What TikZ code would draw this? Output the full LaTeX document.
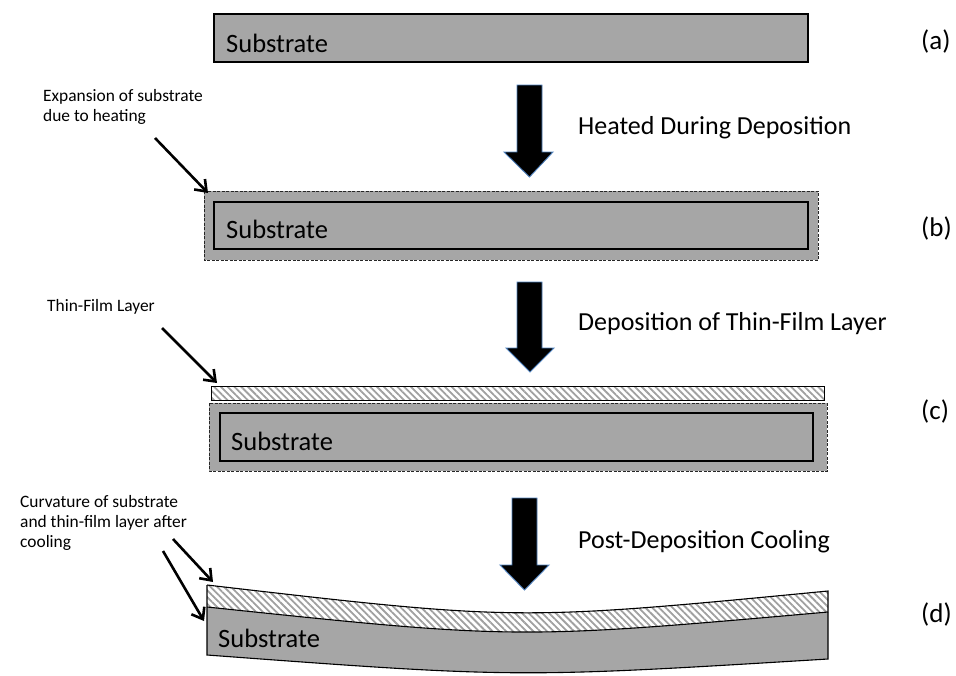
\documentclass[tikz,border=0pt]{standalone}
\usepackage{fontspec}
\setmainfont{Carlito}
\usetikzlibrary{arrows.meta,patterns.meta}
\definecolor{subgray}{HTML}{A6A6A6}
\definecolor{hatchgray}{HTML}{A0A0A0}
\definecolor{arrowedge}{HTML}{4F81BD}
\tikzset{
  subbox/.style={draw=black, line width=1.1pt},
  dashbox/.style={draw=black!85, line width=0.9pt, dash pattern=on 3pt off 1.5pt},
  hatchfill/.style={pattern={Lines[angle=-45,distance=4.8pt,line width=1.8pt]}, pattern color=hatchgray},
  bigarrow/.style={fill=black, draw=arrowedge, line width=0.9pt},
  callout/.style={draw=black, line width=2.6pt, -{Straight Barb[length=10pt,width=15pt,line width=2.6pt]}},
  bigtext/.style={anchor=base west, font=\fontsize{26}{30}\selectfont, inner sep=0pt},
  subtext/.style={anchor=base west, font=\fontsize{26.5}{30}\selectfont, inner sep=0pt},
  labtext/.style={anchor=base west, font=\fontsize{27}{30}\selectfont, inner sep=0pt},
  notetext/.style={anchor=base west, font=\fontsize{17.4}{20}\selectfont, inner sep=0pt, align=left},
}
\begin{document}
\begin{tikzpicture}[x=1pt,y=-1pt]
\useasboundingbox (0,0) rectangle (956,675);

% (a)
\fill[subgray] (214,14) rectangle (808,62);
\draw[subbox] (214,14) rectangle (808,62);
\node[subtext] (subA) at (226,52) {Substrate};
\node[labtext] (labA) at (921,49) {(a)};

% arrow 1
\draw[bigarrow] (517,85) -- (542,85) -- (542,152) -- (553,152) -- (529.5,177) -- (504,152) -- (517,152) -- cycle;
\node[bigtext] (stepA) at (578,134) {Heated During Deposition};

% (b)
\fill[subgray] (204,191) rectangle (818,260);
\draw[dashbox] (204,191) rectangle (818,260);
\draw[subbox] (214,202) rectangle (808,249);
\node[subtext] (subB) at (226,238) {Substrate};
\node[labtext] (labB) at (921,236) {(b)};
\node[notetext] (noteB) at (43,121) {Expansion of substrate\\due to heating};
\coordinate (noteBs) at (155,138);
\coordinate (noteBe) at (208,193);
\draw[callout] (noteBs) -- (noteBe);

% arrow 2
\draw[bigarrow] (517,282) -- (542,282) -- (542,348) -- (554,348) -- (530,372) -- (506,348) -- (517,348) -- cycle;
\node[bigtext] (stepB) at (578,330) {Deposition of Thin-Film Layer};

% (c)
\fill[white] (211,386) rectangle (824,400);
\fill[hatchfill] (211,386) rectangle (824,400);
\draw[black, line width=1pt] (211,386) rectangle (824,400);
\fill[subgray] (209,403) rectangle (827,471);
\draw[dashbox] (209,403) rectangle (827,471);
\draw[subbox] (220,413) rectangle (813,461);
\node[subtext] (subC) at (231,450) {Substrate};
\node[labtext] (labC) at (921,419) {(c)};
\node[notetext] (noteC) at (47,311) {Thin-Film Layer};
\coordinate (noteCs) at (162,328);
\coordinate (noteCe) at (217,383);
\draw[callout] (noteCs) -- (noteCe);

% arrow 3
\draw[bigarrow] (512,498) -- (537,498) -- (537,565) -- (549,565) -- (524.5,590) -- (500,565) -- (512,565) -- cycle;
\node[bigtext] (stepC) at (578,548) {Post-Deposition Cooling};

% (d)
\fill[subgray] (207,607) .. controls (517,639.5) .. (828,612) -- (828,659) .. controls (517,678) .. (207,655) -- cycle;
\fill[white] (207,585) .. controls (517,621) .. (828,591) -- (828,612) .. controls (517,639.5) .. (207,607) -- cycle;
\fill[hatchfill] (207,585) .. controls (517,621) .. (828,591) -- (828,612) .. controls (517,639.5) .. (207,607) -- cycle;
\draw[black, line width=1.1pt] (207,585) .. controls (517,621) .. (828,591) -- (828,612);
\draw[black, line width=1.1pt] (207,607) .. controls (517,639.5) .. (828,612);
\draw[black, line width=1.1pt] (207,585) -- (207,655) .. controls (517,678) .. (828,659) -- (828,612);
\node[subtext] (subD) at (218,647) {Substrate};
\node[labtext] (labD) at (921,622) {(d)};
\node[notetext] (noteD) at (20,547) {Curvature of substrate\\and thin-film layer after\\cooling};
\coordinate (noteDs1) at (173,539);
\coordinate (noteDe1) at (213,582);
\coordinate (noteDs2) at (163,551);
\coordinate (noteDe2) at (204,621);
\draw[callout] (noteDs1) -- (noteDe1);
\draw[callout] (noteDs2) -- (noteDe2);
\end{tikzpicture}
\end{document}
